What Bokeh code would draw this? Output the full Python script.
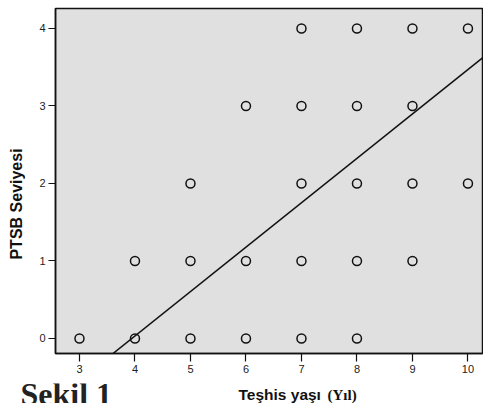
import math
from bokeh.plotting import figure
from bokeh.models import Range1d, Label, FixedTicker
from bokeh.layouts import column, row
from bokeh.embed import file_html
from bokeh.resources import INLINE

# Data
age = [3, 4, 5, 6, 7, 8,
       4, 5, 6, 7, 8, 9,
       5, 7, 8, 9, 10,
       6, 7, 8, 9,
       7, 8, 9, 10]
level = [0, 0, 0, 0, 0, 0,
         1, 1, 1, 1, 1, 1,
         2, 2, 2, 2, 2,
         3, 3, 3, 3,
         4, 4, 4, 4]
fit_slope = 0.573
fit_intercept = -2.26
x_ticks = [3, 4, 5, 6, 7, 8, 9, 10]
y_ticks = [0, 1, 2, 3, 4]

x_lo, x_hi = 2.568, 10.28
y_lo, y_hi = -0.194, 4.258

INK = "#111111"


def blank(width, height):
    f = figure(width=width, height=height, output_backend="svg",
               toolbar_location=None, x_range=Range1d(0, width),
               y_range=Range1d(0, height), min_border=0)
    f.axis.visible = False
    f.grid.visible = False
    f.outline_line_color = None
    f.background_fill_color = "white"
    f.border_fill_color = "white"
    return f


# main scatter plot
p = figure(width=458, height=383, output_backend="svg", toolbar_location=None,
           x_range=Range1d(x_lo, x_hi), y_range=Range1d(y_lo, y_hi),
           min_border_left=30, min_border_top=8, min_border_right=0,
           min_border_bottom=30)
p.background_fill_color = "#e0e0e0"
p.border_fill_color = "white"
p.outline_line_color = INK
p.outline_line_width = 1.5
p.grid.visible = False

bx = p.below[0]
ly_ax = p.left[0]
for ax in (bx, ly_ax):
    ax.axis_line_color = INK
    ax.axis_line_width = 1.5
    ax.major_tick_line_color = INK
    ax.major_tick_line_width = 1.2
    ax.major_tick_in = 0
    ax.minor_tick_line_color = None
    ax.major_label_text_font = "Liberation Sans"
    ax.major_label_text_font_size = "11px"
    ax.major_label_text_color = "#222222"
bx.ticker = FixedTicker(ticks=x_ticks)
ly_ax.ticker = FixedTicker(ticks=y_ticks)
bx.major_tick_out = 8
bx.major_label_standoff = 3
ly_ax.major_tick_out = 7
ly_ax.major_label_standoff = 3

lx = [x_lo, x_hi]
lyv = [fit_slope * v + fit_intercept for v in lx]
p.line(lx, lyv, line_color=INK, line_width=1.5)

p.scatter(age, level, marker="circle", size=9, fill_color=None,
          line_color=INK, line_width=1.5)

# left strip with the y title (pixel units, y measured from the strip bottom)
left = blank(25, 383)
left.add_layout(Label(x=16, y=166, text="PTSB Seviyesi", angle=math.pi / 2,
                      text_align="center", text_baseline="middle",
                      text_font="Liberation Sans", text_font_style="bold",
                      text_font_size="16px", text_color=INK))

# bottom strip with the x title and figure caption
bottom = blank(483, 20)
bottom.add_layout(Label(x=238, y=9, text="Teşhis yaşı", text_align="left",
                        text_baseline="alphabetic",
                        text_font="Liberation Sans", text_font_style="bold",
                        text_font_size="15.5px", text_color=INK))
bottom.add_layout(Label(x=327, y=9, text="(Yıl)", text_align="left",
                        text_baseline="alphabetic",
                        text_font="Liberation Serif", text_font_style="bold",
                        text_font_size="15px", text_color=INK))
bottom.add_layout(Label(x=20, y=10, text="Şekil 1", text_align="left",
                        text_baseline="alphabetic",
                        text_font="Liberation Serif", text_font_style="bold",
                        text_font_size="32px", text_color="#222222"))

layout = column(row(left, p), bottom)
open("out.html", "w").write(file_html(layout, INLINE))
